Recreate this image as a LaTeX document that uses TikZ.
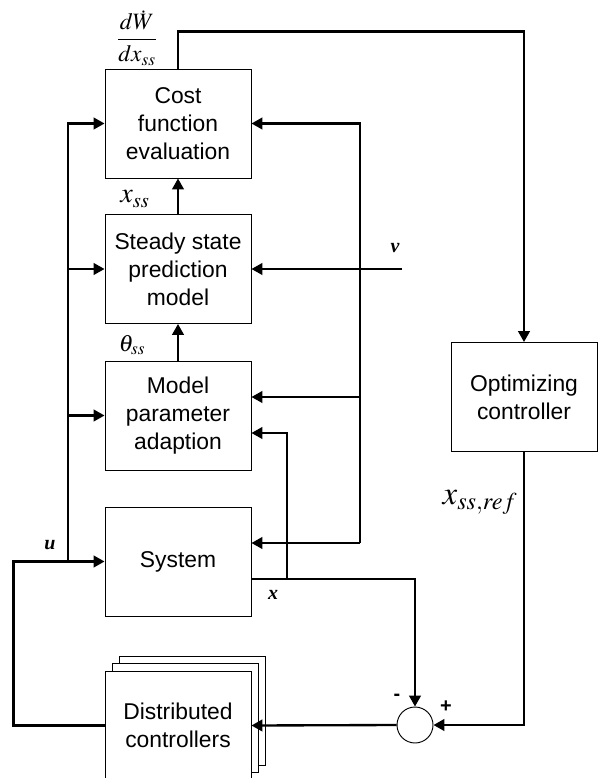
\documentclass[tikz,border=0pt]{standalone}
\usepackage{mathptmx}
\usepackage[no-math]{fontspec}
\setmainfont{Liberation Sans}
\newfontfamily\serif{Liberation Serif}
\usetikzlibrary{arrows.meta}

\begin{document}
\begin{tikzpicture}[x=0.3mm, y=-0.3mm,
	block/.style={draw, line width=0.8pt, fill=white, minimum width=43.8mm, minimum height=32.7mm,
		inner sep=0pt, align=center, font=\fontsize{19.5}{23.8}\selectfont},
	flow/.style={line width=2pt, -{Triangle[length=3.3mm, width=3.5mm]}},
	sig/.style={font=\fontsize{17}{20}\selectfont\serif\bfseries\itshape},
	mlabel/.style={font=\fontsize{20}{24}\selectfont}]

	\useasboundingbox (0,0) rectangle (602,778);

	\node[block] (cost) at (178,123.5) {Cost\\function\\evaluation};
	\node[block] (steady) at (178,269) {Steady state\\prediction\\model};
	\node[block] (model) at (178,415.5) {Model\\parameter\\adaption};
	\node[block] (system) at (178,561.5) {System};
	\node[block] (opt) at (524,397) {Optimizing\\controller};
	\node[draw, circle, line width=0.8pt, minimum size=10.8mm, inner sep=0pt] (sum) at (415,725) {};

	% stack of controllers, back to front
	\node[block] (dist3) at (192.5,710.5) {};
	\node[block] (dist2) at (185.5,717.5) {};
	\node[block] (dist) at (178,725.5) {Distributed\\controllers};

	\draw[flow] (model.north) -- (steady.south);
	\draw[flow] (steady.north) -- (cost.south);
	\draw[flow] (cost.north) -- ++(0,-37) -| (opt.north);
	\draw[flow] (opt.south) |- (sum.east);
	\draw[flow] (sum.west) -- (dist.east);
	\draw[flow] (dist.west) -- ++(-91,0) |- (system.west);

	% u to the upper blocks
	\coordinate (ubus) at (68,561.5);
	\draw[flow] (ubus) |- (cost.west);
	\draw[flow] (ubus |- steady.west) -- (steady.west);
	\draw[flow] (ubus |- model.west) -- (model.west);

	% disturbance v
	\coordinate (vin) at (402,269);
	\draw[flow] (vin) -- (steady.east);

	% feedback bus
	\coordinate (fbsys) at (360,543);
	\coordinate (fbmod) at (360,397);
	\draw[flow] (fbsys) |- (cost.east);
	\draw[flow] (fbsys) -- (fbsys -| system.east);
	\draw[flow] (fbmod) -- (fbmod -| model.east);

	% measured x
	\coordinate (xtap) at (287,579);
	\draw[flow] ([yshift=-5.25mm]system.east) -| (sum.north);
	\draw[flow] (xtap) |- ([yshift=-5.25mm]model.east);

	\node[mlabel] (dwdx) at (137,38) {$\displaystyle\frac{d\dot{W}}{dx_{ss}}$};
	\node[mlabel, font=\fontsize{24}{28}\selectfont] (xss) at (135,199) {$x_{ss}$};
	\node[mlabel] (thetass) at (132,345) {$\theta_{ss}$};
	\node[mlabel, font=\fontsize{28}{32}\selectfont] (xssref) at (480,502) {$x_{ss,ref}$};
	\node[sig] (ulabel) at (50,545) {u};
	\node[sig] (xlabel) at (273,595) {x};
	\node[sig] (vlabel) at (395,248) {v};
	\node[font=\fontsize{17}{20}\selectfont\bfseries] (minus) at (397,697) {-};
	\node[font=\fontsize{17}{20}\selectfont\bfseries] (plus) at (446,707) {+};

\end{tikzpicture}
\end{document}
